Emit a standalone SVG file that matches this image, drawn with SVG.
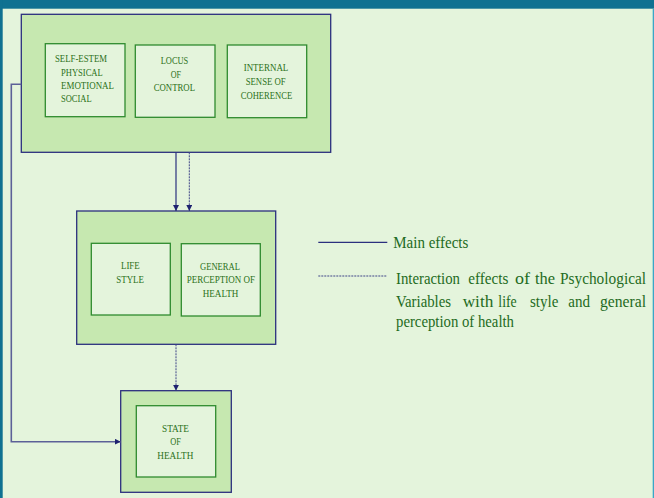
<svg xmlns="http://www.w3.org/2000/svg" width="654" height="498" viewBox="0 0 654 498">
<defs>
<style>
.bg{fill:#E4F4DC}
.outer{fill:#C6E8B0;stroke:#2B2F7E;stroke-width:1.3}
.inner{fill:#E4F4DC;stroke:#2E8A2E;stroke-width:1.3}
.t{font-family:"Liberation Serif","Times New Roman","DejaVu Serif",serif;font-size:10.5px;fill:#2C7220}
.lg{font-family:"Liberation Serif","Times New Roman","DejaVu Serif",serif;font-size:16px;fill:#1E6B22}
.main{stroke:#2B2F7E;stroke-width:1.2;fill:none}
.inter{stroke:#3F4488;stroke-width:1;stroke-dasharray:2 1;fill:none}
.side{stroke:#5C6098;stroke-width:1.6;fill:none}
</style>
<marker id="ah" viewBox="0 0 6 6" refX="6" refY="3" markerWidth="6" markerHeight="6" markerUnits="userSpaceOnUse" orient="auto">
<path d="M0,0 L6,3 L0,6 Z" fill="#1E2270"/>
</marker>
</defs>
<rect class="bg" x="0" y="0" width="654" height="498"/>
<rect x="0" y="0" width="654" height="8.7" fill="#0F7191"/>
<rect x="0" y="0" width="2.7" height="498" fill="#0F7191"/>
<rect x="652.7" y="8.7" width="1.3" height="489.3" fill="#3AA6C8"/>

<g id="psych">
<rect class="outer" x="21.3" y="14.3" width="309.4" height="138"/>
<g id="selfesteem">
<rect class="inner" x="45.3" y="43.7" width="79.7" height="73"/>
<text class="t"><tspan x="55" y="62.3" textLength="52" lengthAdjust="spacingAndGlyphs">SELF-ESTEM</tspan><tspan x="61" y="75.5" textLength="41.7" lengthAdjust="spacingAndGlyphs">PHYSICAL</tspan><tspan x="61" y="89" textLength="53" lengthAdjust="spacingAndGlyphs">EMOTIONAL</tspan><tspan x="61" y="102.3" textLength="30.7" lengthAdjust="spacingAndGlyphs">SOCIAL</tspan></text>
</g>
<g id="locus">
<rect class="inner" x="135.3" y="45" width="79.7" height="72.3"/>
<text class="t"><tspan x="160.7" y="64" textLength="27.6" lengthAdjust="spacingAndGlyphs">LOCUS</tspan><tspan x="170.7" y="77.5" textLength="10.3" lengthAdjust="spacingAndGlyphs">OF</tspan><tspan x="153.7" y="91" textLength="41.3" lengthAdjust="spacingAndGlyphs">CONTROL</tspan></text>
</g>
<g id="coherence">
<rect class="inner" x="227.3" y="45" width="79.4" height="72.7"/>
<text class="t"><tspan x="243.7" y="71" textLength="44.6" lengthAdjust="spacingAndGlyphs">INTERNAL</tspan><tspan x="245.7" y="84.7" textLength="40" lengthAdjust="spacingAndGlyphs">SENSE  OF</tspan><tspan x="240.7" y="98.5" textLength="51.6" lengthAdjust="spacingAndGlyphs">COHERENCE</tspan></text>
</g>
</g>

<g id="lifestyle-perception">
<rect class="outer" x="76.7" y="211" width="199" height="133.3"/>
<g id="lifestyle">
<rect class="inner" x="91.3" y="243.3" width="79" height="71.7"/>
<text class="t"><tspan x="121" y="269" textLength="18.7" lengthAdjust="spacingAndGlyphs">LIFE</tspan><tspan x="116.3" y="282.7" textLength="27.7" lengthAdjust="spacingAndGlyphs">STYLE</tspan></text>
</g>
<g id="perception">
<rect class="inner" x="181.3" y="243.7" width="79" height="72.3"/>
<text class="t"><tspan x="200" y="270" textLength="40" lengthAdjust="spacingAndGlyphs">GENERAL</tspan><tspan x="186.7" y="283.3" textLength="68.3" lengthAdjust="spacingAndGlyphs">PERCEPTION OF</tspan><tspan x="202.7" y="297.3" textLength="35.6" lengthAdjust="spacingAndGlyphs">HEALTH</tspan></text>
</g>
</g>

<g id="health">
<rect class="outer" x="120.7" y="390.7" width="110.6" height="101.6"/>
<g id="state">
<rect class="inner" x="136.3" y="405.7" width="79.4" height="71.3"/>
<text class="t"><tspan x="162" y="432" textLength="27" lengthAdjust="spacingAndGlyphs">STATE</tspan><tspan x="170.3" y="444.7" textLength="10.7" lengthAdjust="spacingAndGlyphs">OF</tspan><tspan x="157.3" y="459" textLength="36" lengthAdjust="spacingAndGlyphs">HEALTH</tspan></text>
</g>
</g>

<g id="connectors">
<line class="main" x1="176" y1="152.3" x2="176" y2="211" marker-end="url(#ah)"/>
<line class="inter" x1="189.3" y1="152.3" x2="189.3" y2="211" marker-end="url(#ah)"/>
<line class="inter" x1="176" y1="344.3" x2="176" y2="390.7" marker-end="url(#ah)"/>
<polyline class="side" points="21.3,84.3 11.3,84.3 11.3,441.7 120.7,441.7" marker-end="url(#ah)"/>
</g>

<g id="legend">
<line class="main" x1="318.3" y1="242.3" x2="387.3" y2="242.3"/>
<line class="inter" x1="318.3" y1="276" x2="387.3" y2="276"/>
<text class="lg" x="393.3" y="248" textLength="75" lengthAdjust="spacingAndGlyphs">Main effects</text>
<text class="lg" y="284"><tspan x="396" textLength="64" lengthAdjust="spacingAndGlyphs">Interaction</tspan><tspan x="468.3" textLength="40" lengthAdjust="spacingAndGlyphs">effects</tspan><tspan x="515" textLength="15" lengthAdjust="spacingAndGlyphs">of</tspan><tspan x="535" textLength="20" lengthAdjust="spacingAndGlyphs">the</tspan><tspan x="560" textLength="86" lengthAdjust="spacingAndGlyphs">Psychological</tspan></text>
<text class="lg" y="306.5"><tspan x="396" textLength="55" lengthAdjust="spacingAndGlyphs">Variables</tspan><tspan x="462.7" textLength="30.6" lengthAdjust="spacingAndGlyphs">with</tspan><tspan x="498.3" textLength="18.4" lengthAdjust="spacingAndGlyphs">life</tspan><tspan x="530" textLength="28.3" lengthAdjust="spacingAndGlyphs">style</tspan><tspan x="568.3" textLength="21.7" lengthAdjust="spacingAndGlyphs">and</tspan><tspan x="600" textLength="46" lengthAdjust="spacingAndGlyphs">general</tspan></text>
<text class="lg" x="396" y="327" textLength="118" lengthAdjust="spacingAndGlyphs">perception of health</text>
</g>
</svg>
